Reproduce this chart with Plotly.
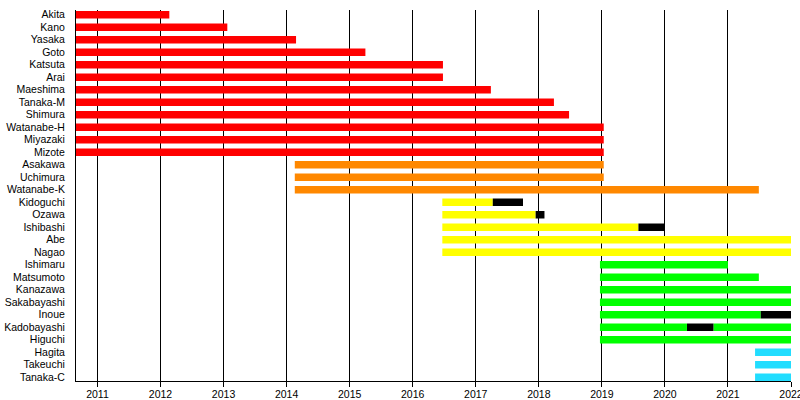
import plotly.graph_objects as go

members = ["Akita", "Kano", "Yasaka", "Goto", "Katsuta", "Arai", "Maeshima", "Tanaka-M",
           "Shimura", "Watanabe-H", "Miyazaki", "Mizote", "Asakawa", "Uchimura", "Watanabe-K",
           "Kidoguchi", "Ozawa", "Ishibashi", "Abe", "Nagao", "Ishimaru", "Matsumoto",
           "Kanazawa", "Sakabayashi", "Inoue", "Kadobayashi", "Higuchi", "Hagita",
           "Takeuchi", "Tanaka-C"]

# segments: member, from, to, kind
seg_member = ["Akita", "Kano", "Yasaka", "Goto", "Katsuta", "Arai", "Maeshima", "Tanaka-M",
              "Shimura", "Watanabe-H", "Miyazaki", "Mizote",
              "Asakawa", "Uchimura", "Watanabe-K",
              "Kidoguchi", "Kidoguchi", "Ozawa", "Ozawa", "Ishibashi", "Ishibashi", "Abe", "Nagao",
              "Ishimaru", "Matsumoto", "Kanazawa", "Sakabayashi", "Inoue", "Inoue",
              "Kadobayashi", "Kadobayashi", "Kadobayashi", "Higuchi",
              "Hagita", "Takeuchi", "Tanaka-C"]
seg_from = [2010.66, 2010.66, 2010.66, 2010.66, 2010.66, 2010.66, 2010.66, 2010.66,
            2010.66, 2010.66, 2010.66, 2010.66,
            2014.13, 2014.13, 2014.13,
            2016.47, 2017.27, 2016.47, 2017.95, 2016.47, 2019.58, 2016.47, 2016.47,
            2018.97, 2018.97, 2018.97, 2018.97, 2018.97, 2021.52,
            2018.97, 2020.35, 2020.77, 2018.97,
            2021.43, 2021.43, 2021.43]
seg_to = [2012.14, 2013.06, 2014.15, 2015.25, 2016.48, 2016.48, 2017.24, 2018.24,
          2018.48, 2019.03, 2019.03, 2019.03,
          2019.03, 2019.03, 2021.49,
          2017.27, 2017.75, 2017.95, 2018.09, 2019.58, 2019.99, 2022.0, 2022.0,
          2021.0, 2021.49, 2022.0, 2022.0, 2021.52, 2022.0,
          2020.35, 2020.77, 2022.0, 2022.0,
          2022.0, 2022.0, 2022.0]
seg_kind = ["gen1"] * 12 + ["gen2"] * 3 + \
           ["gen3", "hiatus", "gen3", "hiatus", "gen3", "hiatus", "gen3", "gen3"] + \
           ["gen4", "gen4", "gen4", "gen4", "gen4", "hiatus", "gen4", "hiatus", "gen4", "gen4"] + \
           ["gen5"] * 3

kind_colors = {"gen1": "#FF0000", "gen2": "#FF8800", "gen3": "#FFFF00",
               "gen4": "#00FF00", "gen5": "#22DDFF", "hiatus": "#000000"}

years = list(range(2011, 2023))
x_start, x_end = 2010.66, 2022.0

fig = go.Figure()
for kind, color in kind_colors.items():
    idx = [i for i, k in enumerate(seg_kind) if k == kind]
    fig.add_trace(go.Bar(
        orientation="h",
        y=[seg_member[i] for i in idx],
        base=[seg_from[i] for i in idx],
        x=[seg_to[i] - seg_from[i] for i in idx],
        width=0.6,
        marker=dict(color=color, line=dict(width=0)),
        showlegend=False,
        hoverinfo="skip",
    ))

fig.update_layout(
    width=800, height=400,
    margin=dict(l=76, r=9, t=10, b=19),
    paper_bgcolor="white", plot_bgcolor="white",
    barmode="overlay",
    font=dict(family="Liberation Sans, Arial, sans-serif", size=10.5, color="black"),
)
fig.update_xaxes(
    range=[x_start, x_end],
    tickvals=years, ticktext=[str(y) for y in years],
    ticks="outside", ticklen=5, tickcolor="black", tickwidth=1,
    showgrid=True, gridcolor="black", gridwidth=1,
    showline=True, linecolor="black", linewidth=1,
    zeroline=False, ticklabeloverflow="allow", automargin=False,
    ticklabelstandoff=-2,
    tickfont=dict(size=10.5),
)
fig.update_yaxes(
    type="category", categoryorder="array", categoryarray=members,
    tickmode="array", tickvals=members, ticktext=members,
    range=[29.3, -0.38],
    showgrid=False, zeroline=False,
    showline=True, linecolor="black", linewidth=1,
    ticks="", ticklabelstandoff=8, automargin=False,
    tickfont=dict(size=10.5),
)

fig.write_html("out.html",
               config={"displayModeBar": False, "staticPlot": True},
               post_script="document.body.style.margin='0';document.body.style.overflow='hidden';")
